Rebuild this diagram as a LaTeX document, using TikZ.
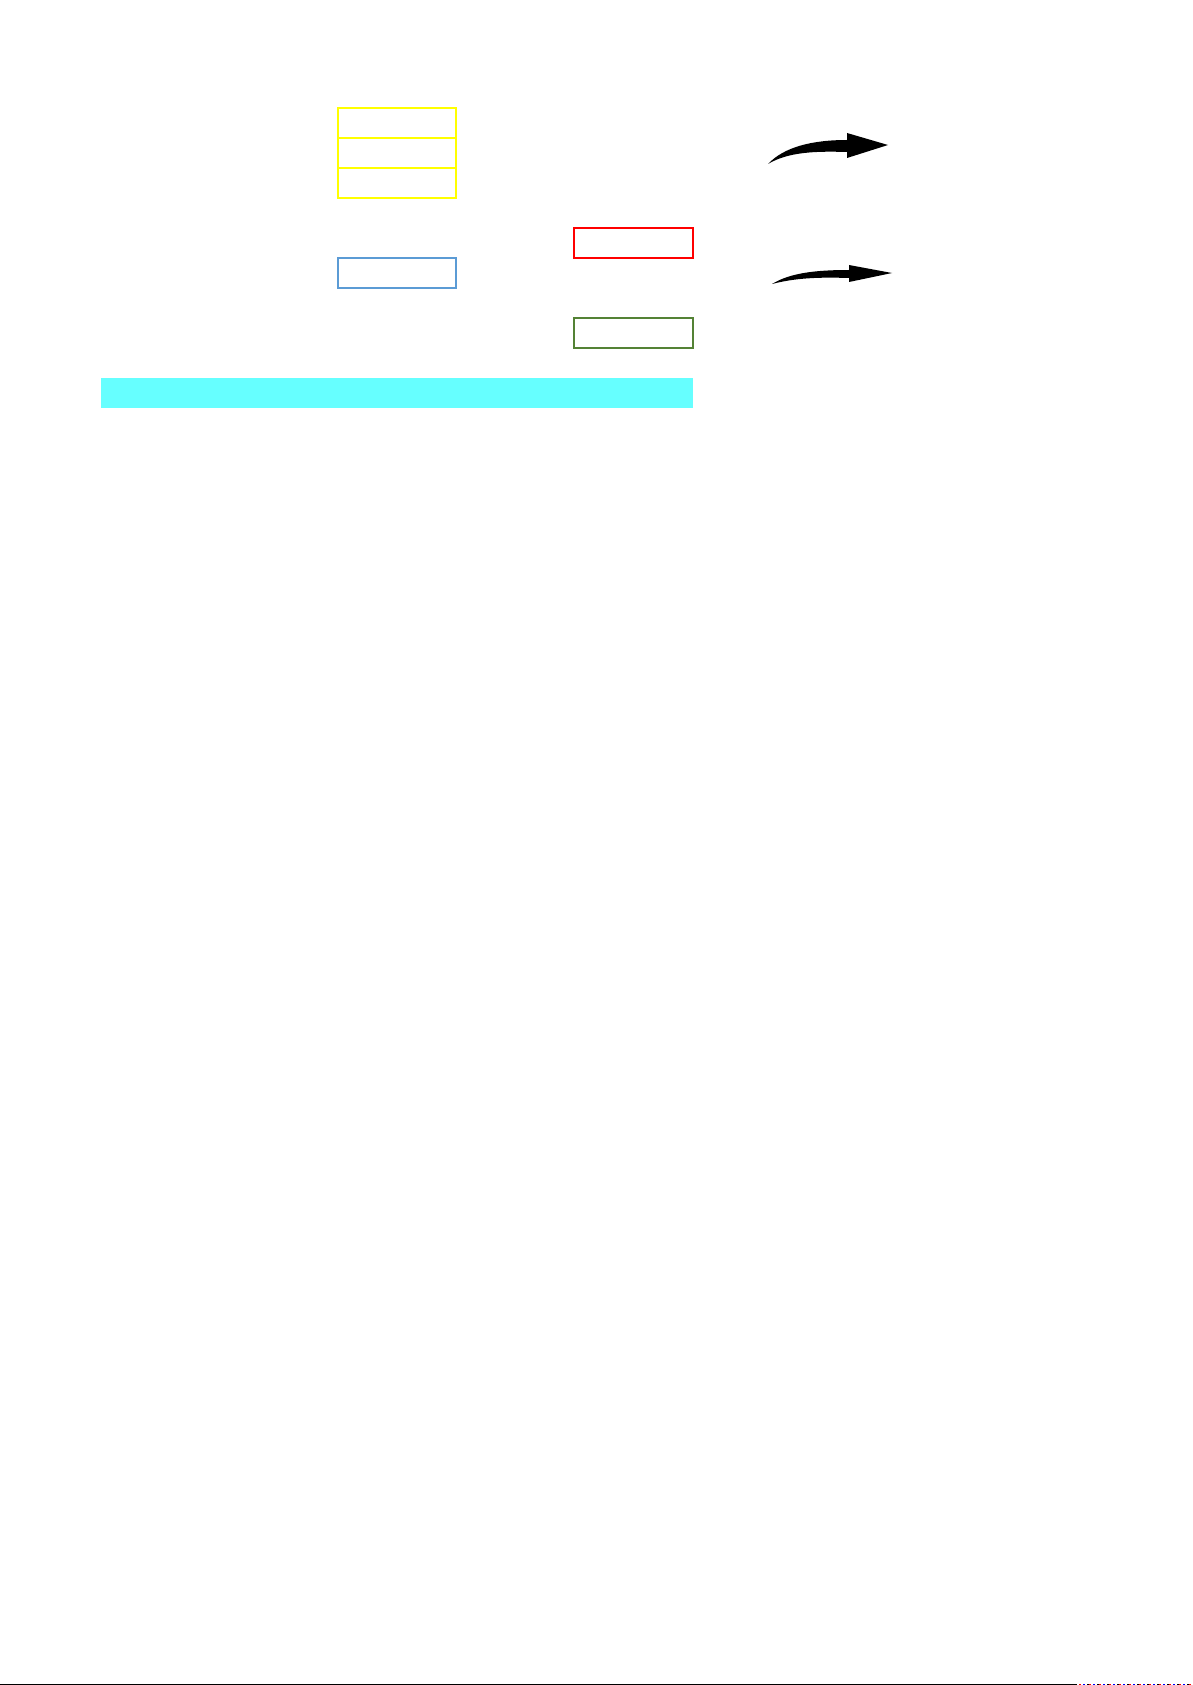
\documentclass[tikz,border=0pt]{standalone}
\begin{document}
\begin{tikzpicture}[x=1pt,y=-1pt,
  box/.style={draw,fill=none,inner sep=0pt,minimum width=118pt,minimum height=30pt},
  ybox/.style={box,draw=yboxc,line width=1.4pt},
  bbox/.style={box,draw=bboxc,line width=1.4pt},
  rbox/.style={box,draw=rboxc,line width=1.7pt,minimum width=119pt},
  gbox/.style={box,draw=gboxc,line width=1.7pt,minimum width=119pt},
  bar/.style={fill=cyanc,inner sep=0pt,minimum width=592pt,minimum height=30pt},
  bigarrow/.style={fill=black,draw=none}]
\definecolor{yboxc}{HTML}{FFFF00}
\definecolor{bboxc}{HTML}{5B9BD5}
\definecolor{rboxc}{HTML}{FF0000}
\definecolor{gboxc}{HTML}{548235}
\definecolor{cyanc}{HTML}{66FFFF}
\useasboundingbox (0,0) rectangle (1192,1685);
\fill[white] (0,0) rectangle (1192,1685);
% yellow stack
\node[ybox] (y1) at (397,123) {};
\node[ybox] (y2) at (397,153) {};
\node[ybox] (y3) at (397,183) {};
% blue
\node[bbox] (b1) at (397,273) {};
% red and green
\node[rbox] (r1) at (633.5,243) {};
\node[gbox] (g1) at (633.5,333) {};
% cyan bar
\node[bar] (c1) at (397,393) {};
% arrows
\fill[bigarrow] (768,164) .. controls (784,147) and (812,140) .. (847,140)
  -- (847,133) -- (888,145) -- (847,158) -- (847,152)
  .. controls (815,151) and (788,152) .. (768,164) -- cycle;
\fill[bigarrow] (772,284) .. controls (790,273) and (815,270) .. (849,270)
  -- (849,265) -- (892,273) -- (849,282) -- (849,278)
  .. controls (818,277) and (795,278) .. (772,284) -- cycle;
% bottom edge line
\draw[line width=1pt,black] (0,1684.5) -- (1077,1684.5);
\draw[line width=1pt,red,dash pattern=on 2pt off 8pt] (1079,1684.5) -- (1192,1684.5);
\draw[line width=1pt,blue,dash pattern=on 2pt off 8pt] (1083,1684.5) -- (1192,1684.5);
\draw[line width=1pt,black,dash pattern=on 2pt off 8pt] (1087,1684.5) -- (1192,1684.5);
\end{tikzpicture}
\end{document}
